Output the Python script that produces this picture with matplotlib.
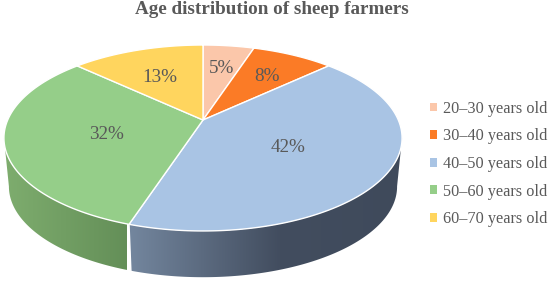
import numpy as np
import matplotlib
matplotlib.use("Agg")
import matplotlib.pyplot as plt
from matplotlib.colors import LinearSegmentedColormap
from matplotlib.patches import Patch, Polygon

# data
age_groups = ["20–30 years old", "30–40 years old", "40–50 years old",
              "50–60 years old", "60–70 years old"]
shares = [5, 8, 42, 32, 13]
share_labels = ["5%", "8%", "42%", "32%", "13%"]
slice_colors = ["#FBC7AA", "#FB7B26", "#A9C4E4", "#95CE89", "#FFD55E"]

plt.rcParams["font.family"] = ["Liberation Serif", "DejaVu Serif"]
text_color = "#595959"

# pie geometry, in pixels
cx, cy = 203, 120
sx, sy = 195.3, 89.5
tilt = 0.1935
depth = 49
shrink = 0.975

def project(r, a):
    # a is in degrees, clockwise from the top of the pie
    x = r * np.sin(np.radians(a))
    y = r * np.cos(np.radians(a))
    w = 1 + tilt * y
    return sx * x / w, sy * y / w

def top_rim(a):
    x, y = project(1, a)
    return cx + x, cy - y

def bottom_rim(a):
    x, y = project(1, a)
    return cx + shrink * x, cy - shrink * y + depth

fig = plt.figure(figsize=(5.5, 2.81), dpi=100)
ax = fig.add_axes([0, 0, 1, 1])

edges = np.cumsum([0] + shares) * 3.6

# side wall, only the two slices at the front show
def side_wall(i, colors, x0, x1):
    a = np.linspace(edges[i], edges[i + 1], 400)
    # stop at the widest point of the rim, the part behind it is hidden
    xs = top_rim(a)[0]
    if i == 2:
        a = a[np.argmax(xs):]
    else:
        a = a[:np.argmin(xs) + 1]
    xt, yt = top_rim(a)
    xb, yb = bottom_rim(a)
    pts = np.column_stack([np.r_[xt, xb[::-1]], np.r_[yt, yb[::-1]]])
    cmap = LinearSegmentedColormap.from_list("side", colors)
    im = ax.imshow(np.linspace(0, 1, 256)[None, :], cmap=cmap, aspect="auto",
                   extent=[x0, x1, 281, 0], zorder=1)
    clip = Polygon(pts, closed=True, transform=ax.transData)
    im.set_clip_path(clip)

side_wall(3, ["#7FAE6F", "#648F58"], 0, 127)
side_wall(2, [(0, "#74879F"), (0.55, "#424D5F"), (1, "#3F4A5B")], 127, 405)

# seam between the two side walls
xt, yt = top_rim(edges[3])
xb, yb = bottom_rim(edges[3])
ax.plot([xt, xb], [yt, yb], color="white", lw=1, zorder=2)

# top face
for i in range(len(shares)):
    a = np.linspace(edges[i], edges[i + 1], 200)
    x, y = top_rim(a)
    ax.fill(np.r_[cx, x], np.r_[cy, y], facecolor=slice_colors[i],
            edgecolor="white", lw=1, joinstyle="round", zorder=3)

# percent labels
label_r = [0.7, 0.68, 0.49, 0.5, 0.62]
for i, lab in enumerate(share_labels):
    x, y = project(label_r[i], (edges[i] + edges[i + 1]) / 2)
    ax.text(cx + x, cy - y + 3, lab, ha="center", va="center", fontsize=13.75,
            color=text_color, zorder=4)

ax.text(272, 9, "Age distribution of sheep farmers", ha="center", va="center",
        fontsize=13.75, fontweight="bold", color=text_color)

handles = [Patch(facecolor=c, edgecolor="none") for c in slice_colors]
ax.legend(handles, age_groups, loc="center left", bbox_to_anchor=(0.782, 0.4164),
          frameon=False, fontsize=11.7, labelcolor=text_color, handlelength=0.45,
          handleheight=0.45, handletextpad=0.315, labelspacing=0.71, borderpad=0,
          borderaxespad=0)

ax.set_xlim(0, 550)
ax.set_ylim(281, 0)
ax.axis("off")

fig.savefig("out.png", dpi=100, facecolor="white")
plt.close()
